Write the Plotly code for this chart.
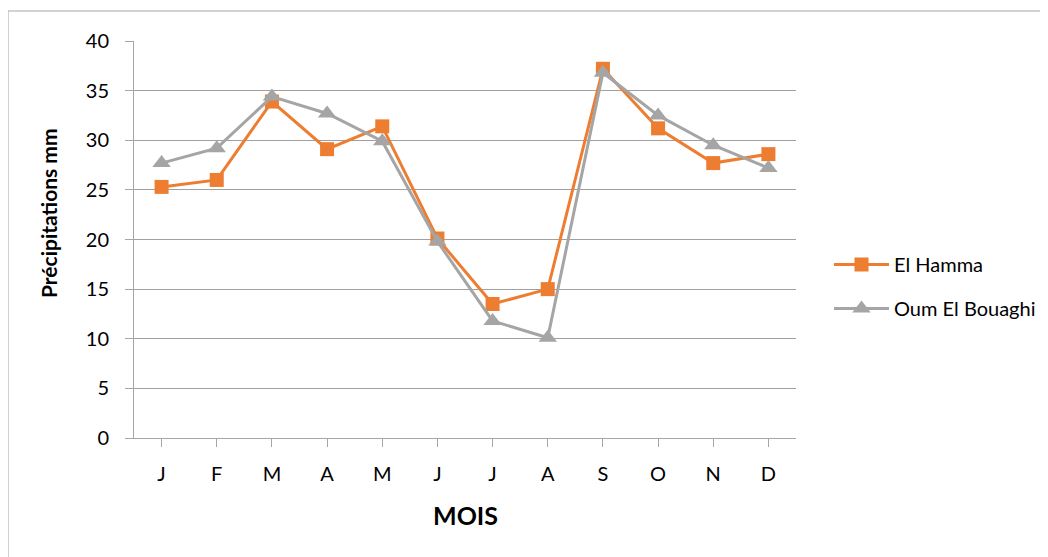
import plotly.graph_objects as go

months = ["J", "F", "M", "A", "M", "J", "J", "A", "S", "O", "N", "D"]
el_hamma = [25.3, 26.0, 33.9, 29.1, 31.4, 20.1, 13.5, 15.0, 37.2, 31.2, 27.7, 28.6]
oum_el_bouaghi = [27.7, 29.2, 34.4, 32.7, 29.9, 19.8, 11.8, 10.1, 36.8, 32.5, 29.5, 27.2]
series_names = ["El Hamma", "Oum El Bouaghi"]
y_ticks = [0, 5, 10, 15, 20, 25, 30, 35, 40]

# page body has an 8px margin: work in figure coordinates
OFF = 8
W, H = 1048 - OFF, 557 - OFF
L, R, T, B = 134 - OFF, 796 - OFF, 41 - OFF, 438 - OFF
FONT = "Lato, Carlito, Calibri, 'Open Sans', sans-serif"

x_idx = list(range(len(months)))

fig = go.Figure()
fig.add_trace(go.Scatter(
    x=x_idx, y=el_hamma, name=series_names[0], mode="lines+markers",
    line=dict(color="#ED7D31", width=3),
    marker=dict(symbol="square", size=14, color="#ED7D31"),
    legendgroup="a",
))
fig.add_trace(go.Scatter(
    x=x_idx, y=oum_el_bouaghi, name=series_names[1], mode="lines+markers",
    line=dict(color="#A5A5A5", width=3),
    marker=dict(symbol="triangle-up", size=16, color="#A5A5A5"),
    legendgroup="b",
))

pw, ph = R - L, B - T


def px_x(p):
    return (p - OFF - L) / pw


def px_y(p):
    return (B - (p - OFF)) / ph


# outer chart border (top and left visible)
fig.add_shape(type="rect", xref="paper", yref="paper",
              x0=px_x(8), x1=px_x(1070),
              y0=px_y(600), y1=px_y(11),
              line=dict(color="#A6A6A6", width=1), fillcolor="rgba(0,0,0,0)", layer="below")

# y-axis title
fig.add_annotation(text="<b>Précipitations mm</b>", xref="paper", yref="paper",
                   x=px_x(48), y=px_y(213), showarrow=False, textangle=-90,
                   font=dict(family=FONT, size=21, color="#000000"),
                   xanchor="center", yanchor="middle")
# x-axis title
fig.add_annotation(text="<b>MOIS</b>", xref="paper", yref="paper",
                   x=px_x(465), y=px_y(515), showarrow=False,
                   font=dict(family=FONT, size=25, color="#000000"),
                   xanchor="center", yanchor="middle")

fig.update_layout(
    width=W, height=H,
    margin=dict(l=L, r=W - R, t=T, b=H - B, autoexpand=False),
    paper_bgcolor="white", plot_bgcolor="white",
    font=dict(family=FONT, size=20, color="#000000"),
    showlegend=True,
    legend=dict(x=px_x(829), y=px_y(245), xanchor="left", yanchor="top",
                font=dict(family=FONT, size=20, color="#000000"),
                itemwidth=55,
                tracegroupgap=15, bgcolor="rgba(0,0,0,0)"),
    xaxis=dict(
        tickmode="array", tickvals=x_idx, ticktext=months,
        range=[-0.5, len(months) - 0.5],
        showgrid=False, zeroline=False,
        showline=True, linecolor="#A6A6A6", linewidth=1,
        ticks="outside", ticklen=8, tickcolor="#A6A6A6", tickwidth=1,
        ticklabelstandoff=10,
        tickfont=dict(family=FONT, size=20, color="#000000"),
    ),
    yaxis=dict(
        range=[0, 40], tickmode="array", tickvals=y_ticks,
        showgrid=True, gridcolor="#A0A0A0", gridwidth=1,
        zeroline=False, showline=True, linecolor="#A6A6A6", linewidth=1,
        ticks="outside", ticklen=8, tickcolor="#A6A6A6", tickwidth=1,
        ticklabelstandoff=12,
        tickfont=dict(family=FONT, size=20, color="#000000"),
    ),
)

fig.write_html("out.html")
